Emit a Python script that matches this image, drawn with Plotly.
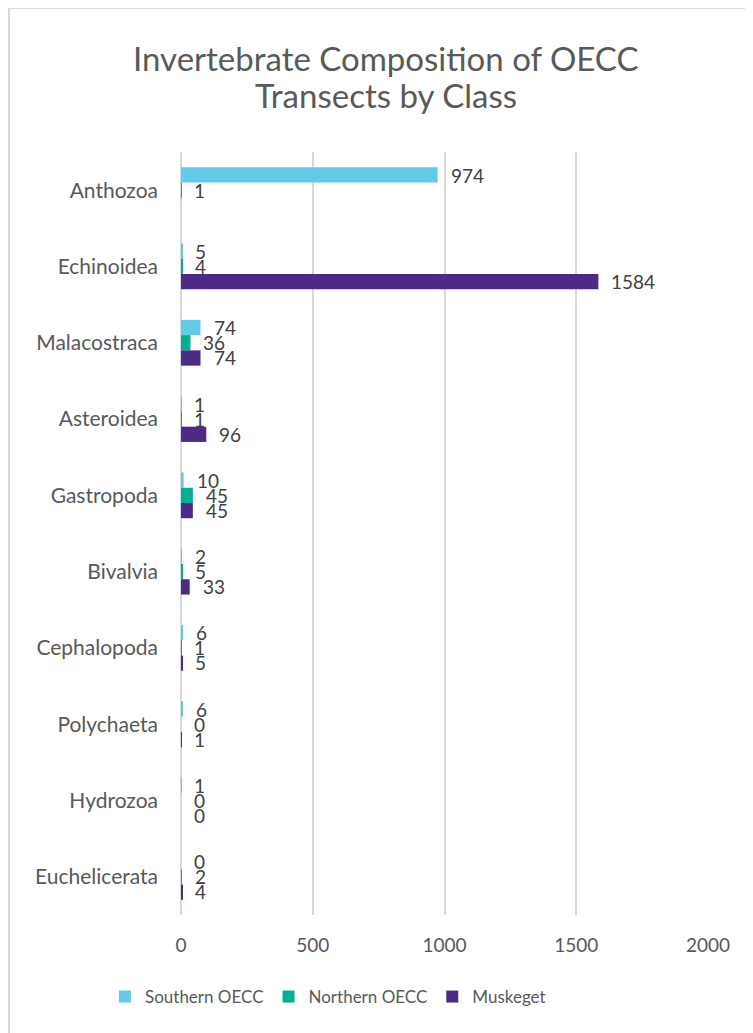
import plotly.graph_objects as go

categories = ["Anthozoa", "Echinoidea", "Malacostraca", "Asteroidea", "Gastropoda",
              "Bivalvia", "Cephalopoda", "Polychaeta", "Hydrozoa", "Euchelicerata"]
southern = [974, 5, 74, 1, 10, 2, 6, 6, 1, 0]
northern = [1, 4, 36, 1, 45, 5, 1, 0, 0, 2]
muskeget = [None, 1584, 74, 96, 45, 33, 5, 1, 0, 4]
series_names = ["Southern OECC", "Northern OECC", "Muskeget"]
colors = ["#62CBE9", "#00B092", "#4C2A85"]
x_ticks = [0, 500, 1000, 1500, 2000]
title_lines = ["Invertebrate Composition of OECC", "Transects by Class"]

FONT = "Lato, 'Open Sans', sans-serif"
GREY = "#595959"

# figure coordinates (page has an 8px body margin)
W, H = 745, 1025
L, R, T, B = 173, 45, 144, 118
pw = W - L - R
ph = H - T - B

def px_x(fx):
    return (fx - L) / pw

def px_y(fy):
    return (T + ph - fy) / ph

fig = go.Figure()
for name, vals, col in zip(series_names, [southern, northern, muskeget], colors):
    fig.add_trace(go.Bar(
        y=categories, x=vals, name=name, orientation="h",
        marker=dict(color=col, line=dict(width=0)),
    ))

annotations = []
shifts = [15, 0, -15]
for vals, ys in zip([southern, northern, muskeget], shifts):
    for cat, v in zip(categories, vals):
        if v is None:
            continue
        annotations.append(dict(
            x=v, y=cat, xref="x", yref="y", text=str(v), showarrow=False,
            xanchor="left", yanchor="middle", xshift=11, yshift=ys,
            font=dict(family=FONT, size=19, color="#404040"),
        ))

for i, line in enumerate(title_lines):
    annotations.append(dict(
        x=px_x(378), y=px_y(50 + 37 * i), xref="paper", yref="paper",
        text=line, showarrow=False, xanchor="center", yanchor="middle",
        font=dict(family=FONT, size=33, color=GREY, weight=400),
    ))

fig.update_layout(
    width=W, height=H,
    margin=dict(l=L, r=R, t=T, b=B),
    paper_bgcolor="white", plot_bgcolor="white",
    barmode="group", bargap=0.4, bargroupgap=0,
    font=dict(family=FONT, color=GREY),
    xaxis=dict(range=[0, 2000], tickvals=x_ticks, showgrid=True,
               gridcolor="#D9D9D9", gridwidth=1.5, zeroline=True,
               zerolinecolor="#D9D9D9", zerolinewidth=1.5,
               tickfont=dict(size=19, color=GREY), ticks="", ticklabelstandoff=17,
               showline=False),
    yaxis=dict(autorange="reversed", showgrid=False, ticks="",
               tickfont=dict(size=21, color=GREY), ticklabelstandoff=22,
               showline=False),
    legend=dict(orientation="h", x=px_x(320), xanchor="center",
                y=px_y(989), yanchor="middle",
                font=dict(size=17, color=GREY), itemwidth=30,
                traceorder="normal"),
    annotations=annotations,
)

fig.add_shape(type="rect", xref="paper", yref="paper",
              x0=px_x(1), x1=px_x(W + 10),
              y0=px_y(H + 10), y1=px_y(0),
              line=dict(color="#D9D9D9", width=2), fillcolor="rgba(0,0,0,0)",
              layer="below")

fig.write_html("out.html")
